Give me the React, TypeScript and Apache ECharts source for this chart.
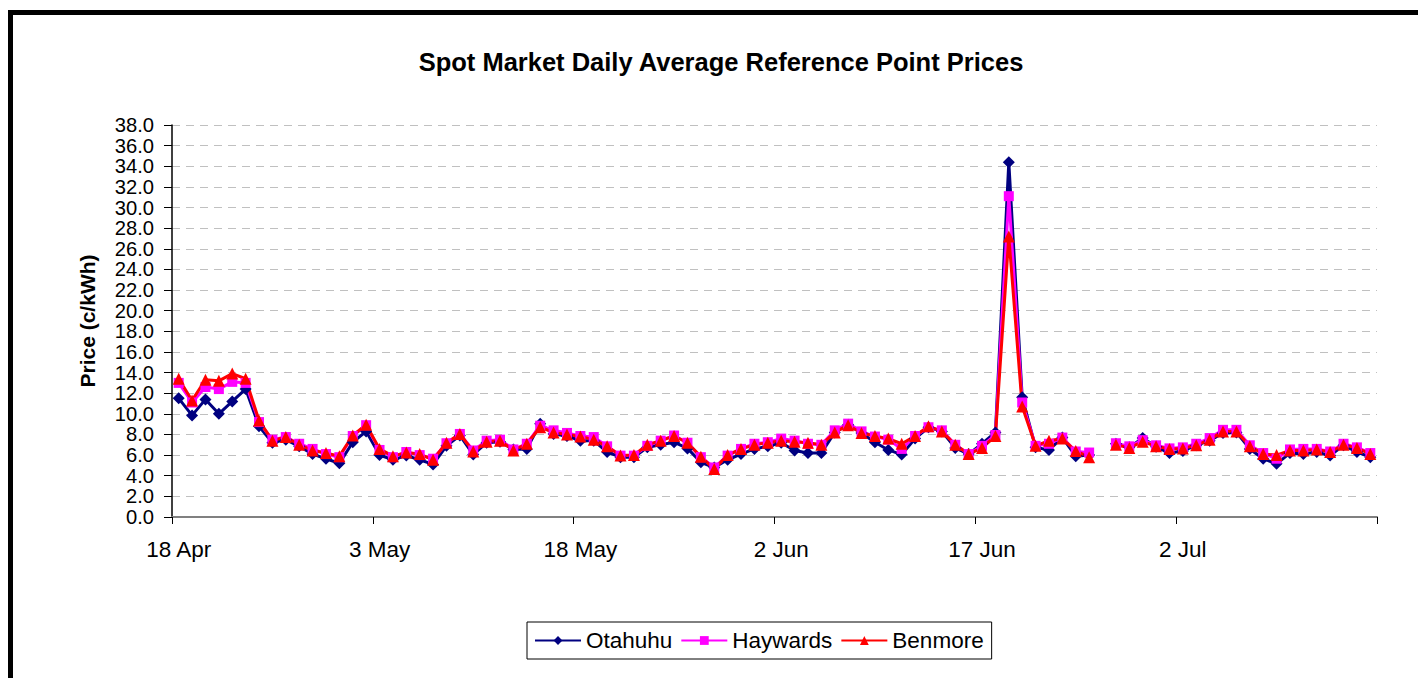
import React, { useEffect, useRef } from "react";
import * as echarts from "echarts";

const categories: string[] = [
  "18 Apr", "19 Apr", "20 Apr", "21 Apr", "22 Apr", "23 Apr", "24 Apr", "25 Apr", "26 Apr", "27 Apr", "28 Apr", "29 Apr", "30 Apr",
  "1 May", "2 May", "3 May", "4 May", "5 May", "6 May", "7 May", "8 May", "9 May", "10 May", "11 May", "12 May", "13 May", "14 May", "15 May", "16 May", "17 May", "18 May", "19 May", "20 May", "21 May", "22 May", "23 May", "24 May", "25 May", "26 May", "27 May", "28 May", "29 May", "30 May", "31 May",
  "1 Jun", "2 Jun", "3 Jun", "4 Jun", "5 Jun", "6 Jun", "7 Jun", "8 Jun", "9 Jun", "10 Jun", "11 Jun", "12 Jun", "13 Jun", "14 Jun", "15 Jun", "16 Jun", "17 Jun", "18 Jun", "19 Jun", "20 Jun", "21 Jun", "22 Jun", "23 Jun", "24 Jun", "25 Jun", "26 Jun", "27 Jun", "28 Jun", "29 Jun", "30 Jun",
  "1 Jul", "2 Jul", "3 Jul", "4 Jul", "5 Jul", "6 Jul", "7 Jul", "8 Jul", "9 Jul", "10 Jul", "11 Jul", "12 Jul", "13 Jul", "14 Jul", "15 Jul", "16 Jul",
];

const otahuhu: (number | null)[] = [
  11.5, 9.85, 11.4, 10.0, 11.2, 12.4, 8.8, 7.2, 7.5, 6.85, 6.1, 5.65, 5.2, 7.25, 8.3,
  6.0, 5.55, 5.95, 5.55, 5.1, 6.9, 7.9, 6.05, 7.2, 7.3, 6.55, 6.6, 9.05, 8.05, 7.85,
  7.4, 7.4, 6.3, 5.8, 5.8, 6.75, 7.0, 7.25, 6.65, 5.3, 4.8, 5.55, 6.1, 6.6, 6.85,
  7.2, 6.45, 6.2, 6.2, 8.2, 8.95, 8.15, 7.25, 6.5, 6.05, 7.6, 8.7, 8.3, 6.7, 6.1,
  7.1, 8.2, 34.4, 11.6, 6.75, 6.5, 7.7, 5.9, 6.0, null, 7.1, 6.75, 7.65, 6.8, 6.2,
  6.4, 6.95, 7.4, 8.15, 8.2, 6.6, 5.65, 5.15, 6.2, 6.1, 6.3, 5.95, 6.95, 6.3, 5.8,
];

const haywards: (number | null)[] = [
  13.0, 11.1, 12.6, 12.4, 13.1, 13.0, 9.2, 7.5, 7.75, 7.1, 6.6, 6.1, 5.8, 7.85, 8.9,
  6.5, 5.8, 6.3, 6.0, 5.65, 7.15, 8.05, 6.45, 7.4, 7.5, 6.55, 7.1, 8.85, 8.4, 8.15,
  7.85, 7.75, 6.85, 5.95, 5.95, 6.9, 7.4, 7.9, 7.2, 5.8, 4.8, 5.95, 6.6, 7.1, 7.25,
  7.6, 7.4, 7.1, 7.0, 8.4, 9.05, 8.3, 7.8, 7.5, 6.6, 7.85, 8.7, 8.4, 7.0, 6.1,
  6.9, 7.95, 31.1, 11.1, 6.9, 7.1, 7.7, 6.35, 6.25, null, 7.15, 6.85, 7.45, 6.95, 6.65,
  6.75, 7.1, 7.65, 8.45, 8.45, 6.95, 6.2, 5.65, 6.55, 6.6, 6.6, 6.35, 7.1, 6.75, 6.2,
];

const benmore: (number | null)[] = [
  13.4, 11.3, 13.3, 13.2, 13.9, 13.4, 9.35, 7.4, 7.75, 7.0, 6.45, 6.2, 5.9, 7.9, 8.95,
  6.6, 5.9, 6.25, 6.1, 5.55, 7.2, 8.05, 6.35, 7.3, 7.4, 6.45, 7.1, 8.7, 8.2, 8.0,
  7.8, 7.5, 6.85, 5.95, 6.0, 7.0, 7.4, 7.85, 7.2, 5.85, 4.65, 6.0, 6.6, 7.0, 7.2,
  7.4, 7.3, 7.2, 7.0, 8.2, 8.9, 8.15, 7.85, 7.6, 7.1, 7.85, 8.8, 8.3, 7.0, 6.1,
  6.7, 7.85, 27.2, 10.7, 6.9, 7.4, 7.6, 6.4, 5.8, null, 7.0, 6.7, 7.3, 6.85, 6.6,
  6.65, 6.95, 7.5, 8.3, 8.3, 6.85, 6.1, 6.0, 6.45, 6.45, 6.55, 6.3, 7.0, 6.7, 6.1,
];

const seriesNames = ["Otahuhu", "Haywards", "Benmore"];

export default function App() {
  const ref = useRef<HTMLDivElement>(null);
  useEffect(() => {
    if (!ref.current) return;
    const chart = echarts.init(ref.current, null, { renderer: "svg" });
    const font = "Liberation Sans, Arial, sans-serif";
    const mk = (name: string, data: (number | null)[], color: string, symbol: string, size: number) => ({
      name,
      type: "line",
      data,
      symbol,
      symbolSize: size,
      showAllSymbol: true,
      connectNulls: false,
      lineStyle: { color, width: 3 },
      itemStyle: { color, borderWidth: 0 },
      emphasis: { disabled: true },
    });
    chart.setOption({
      animation: false,
      backgroundColor: "#ffffff",
      textStyle: { fontFamily: font },
      title: {
        text: "Spot Market Daily Average Reference Point Prices",
        left: 716,
        textAlign: "center",
        top: 44,
        textStyle: { fontFamily: font, fontSize: 25.5, fontWeight: "bold", color: "#000" },
      },
      graphic: [
        {
          type: "rect",
          shape: { x: 10.5, y: 12.5, width: 1600, height: 1000 },
          style: { fill: "none", stroke: "#000", lineWidth: 5 },
          silent: true,
        },
      ],
      legend: {
        data: seriesNames,
        left: 527,
        top: 622,
        orient: "horizontal",
        borderColor: "#000",
        borderWidth: 1,
        padding: [7, 8, 7, 7],
        itemWidth: 46,
        itemHeight: 11,
        itemGap: 8,
        textStyle: { fontFamily: font, fontSize: 22.5, color: "#000" },
      },
      grid: { left: 172, right: 41, top: 125, bottom: 161, containLabel: false },
      xAxis: {
        type: "category",
        data: categories,
        boundaryGap: true,
        axisLine: { lineStyle: { color: "#808080", width: 2 } },
        axisTick: {
          show: true,
          interval: (i: number) => i % 15 === 0,
          length: 7,
          lineStyle: { color: "#000", width: 1 },
        },
        axisLabel: {
          interval: (i: number) => i % 15 === 0,
          fontFamily: font,
          fontSize: 22.5,
          color: "#000",
          margin: 21,
        },
        splitLine: { show: false },
      },
      yAxis: {
        type: "value",
        min: 0,
        max: 38,
        interval: 2,
        name: "Price (c/kWh)",
        nameLocation: "middle",
        nameGap: 74,
        nameRotate: 90,
        nameTextStyle: { fontFamily: font, fontSize: 21, fontWeight: "bold", color: "#000" },
        axisLine: { show: true, lineStyle: { color: "#000", width: 1.5 } },
        axisTick: { show: true, length: 8, lineStyle: { color: "#000" } },
        axisLabel: {
          formatter: (v: number) => v.toFixed(1),
          fontFamily: font,
          fontSize: 20.2,
          color: "#000",
          margin: 18,
          showMinLabel: true,
          showMaxLabel: true,
          hideOverlap: false,
        },
        splitLine: { show: true, lineStyle: { color: "#c0c0c0", type: [8, 6], width: 1.2 } },
      },
      series: [
        mk("Otahuhu", otahuhu, "#000080", "diamond", 12),
        mk("Haywards", haywards, "#ff00ff", "rect", 10),
        mk("Benmore", benmore, "#ff0000", "triangle", 12),
      ],
    });
    return () => chart.dispose();
  }, []);
  return (
    <div
      ref={ref}
      style={{ position: "absolute", left: 0, top: 0, width: 1418, height: 678 }}
    />
  );
}
